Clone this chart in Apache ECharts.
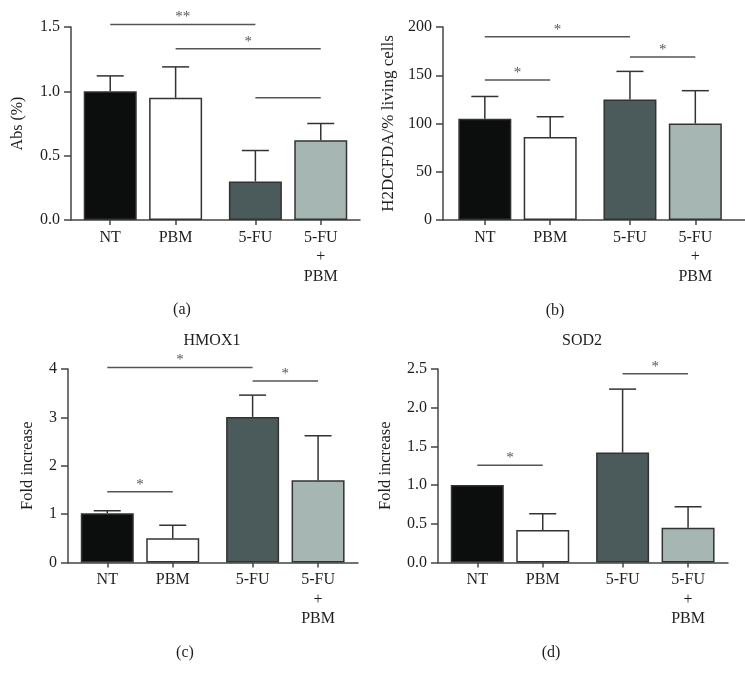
<!DOCTYPE html>
<html><head><meta charset="utf-8">
<script src="https://cdn.jsdelivr.net/npm/echarts@6/dist/echarts.min.js"></script>
<style>html,body{margin:0;padding:0;background:#fff}#c{width:745px;height:685px}</style>
</head><body><div id="c"></div>
<script>
// ---- data ----
const categories = ['NT', 'PBM', '5-FU', '5-FU\n+\nPBM'];
const groupOf = [0, 0, 1, 1];

const absMean = [1.00, 0.95, 0.30, 0.62];
const absErr  = [0.12, 0.24, 0.24, 0.13];
const h2Mean  = [105, 86, 125, 100];
const h2Err   = [23, 21, 29, 34];
const hmoxMean = [1.02, 0.50, 3.01, 1.70];
const hmoxErr  = [0.05, 0.27, 0.45, 0.92];
const sodMean  = [1.00, 0.42, 1.42, 0.45];
const sodErr   = [0.00, 0.21, 0.82, 0.27];

// significance brackets: [fromIndex, toIndex, level, label]
const sigA = [[0, 2, 1.52, '**'], [1, 3, 1.33, '*'], [2, 3, 0.95, '']];
const sigB = [[0, 2, 190, '*'], [2, 3, 169, '*'], [0, 1, 145, '*']];
const sigC = [[0, 2, 4.03, '*'], [2, 3, 3.75, '*'], [0, 1, 1.46, '*']];
const sigD = [[0, 1, 1.255, '*'], [2, 3, 2.44, '*']];

// ---- layout / style ----
const GROUP_GAP = 0.22;
const pos = categories.map((c, i) => i + groupOf[i] * GROUP_GAP);
const fills = ['#0b0e0c', '#ffffff', '#4b5a5a', '#a6b6b3'];
const FONT = '"Liberation Serif", "DejaVu Serif", serif';
const FS = 16;
const TXT = '#1e1e1e';
const AX = '#444';

const panels = [
  {grid: {left: 71, top: 27, width: 289, height: 193}, xmin: -0.6, xmax: 3.82,
   y: {min: 0, max: 1.5, interval: 0.5, dec: 1}, mean: absMean, err: absErr, sig: sigA,
   name: 'Abs (%)', nameGap: 45, nameSize: 16},
  {grid: {left: 443, top: 27, width: 302, height: 193}, xmin: -0.64, xmax: 3.98,
   y: {min: 0, max: 200, interval: 50, dec: 0}, mean: h2Mean, err: h2Err, sig: sigB,
   name: 'H2DCFDA/% living cells', nameGap: 46, nameSize: 17},
  {grid: {left: 68, top: 369, width: 290, height: 193.5}, xmin: -0.6, xmax: 3.83,
   y: {min: 0, max: 4, interval: 1, dec: 0}, mean: hmoxMean, err: hmoxErr, sig: sigC,
   name: 'Fold increase', nameGap: 32, nameSize: 16.5},
  {grid: {left: 438, top: 369, width: 290, height: 193.5}, xmin: -0.6, xmax: 3.83,
   y: {min: 0, max: 2.5, interval: 0.5, dec: 1}, mean: sodMean, err: sodErr, sig: sigD,
   name: 'Fold increase', nameGap: 44, nameSize: 16.5}
];

const grids = [], xAxes = [], yAxes = [], series = [];
panels.forEach((p, k) => {
  grids.push(p.grid);
  xAxes.push({
    type: 'value', gridIndex: k, min: p.xmin, max: p.xmax,
    splitLine: {show: false},
    axisLine: {onZero: false, lineStyle: {color: AX, width: 1.5}},
    axisTick: {customValues: pos, length: 5, lineStyle: {color: AX, width: 1.5}},
    axisLabel: {
      customValues: pos, margin: 8, fontFamily: FONT, fontSize: FS, color: TXT, lineHeight: 19.5,
      formatter: v => {
        let best = 0;
        pos.forEach((q, i) => { if (Math.abs(q - v) < Math.abs(pos[best] - v)) best = i; });
        return categories[best];
      }
    }
  });
  yAxes.push({
    type: 'value', gridIndex: k, min: p.y.min, max: p.y.max, interval: p.y.interval,
    splitLine: {show: false},
    axisLine: {show: true, onZero: false, lineStyle: {color: AX, width: 1.5}},
    axisTick: {show: true, length: 7, lineStyle: {color: AX, width: 1.5}},
    axisLabel: {margin: 11, fontFamily: FONT, fontSize: FS, color: TXT,
      formatter: v => v.toFixed(p.y.dec)},
    name: p.name, nameLocation: 'middle', nameGap: p.nameGap,
    nameTextStyle: {fontFamily: FONT, fontSize: p.nameSize, color: TXT}
  });
  series.push({
    type: 'bar', xAxisIndex: k, yAxisIndex: k, barWidth: 53, z: 2,
    itemStyle: {borderColor: '#333', borderWidth: 1.5},
    data: p.mean.map((v, i) => ({value: [pos[i], v], itemStyle: {color: fills[i]}}))
  });
  series.push({
    type: 'custom', xAxisIndex: k, yAxisIndex: k, z: 3,
    data: p.mean.map((v, i) => [pos[i], v, v + p.err[i]]),
    renderItem: (params, api) => {
      const a = api.coord([api.value(0), api.value(1)]);
      const b = api.coord([api.value(0), api.value(2)]);
      if (Math.abs(a[1] - b[1]) < 0.5) return {type: 'group', children: []};
      const st = {stroke: '#333', lineWidth: 1.5};
      return {type: 'group', children: [
        {type: 'line', shape: {x1: a[0], y1: a[1], x2: b[0], y2: b[1]}, style: st},
        {type: 'line', shape: {x1: b[0] - 13.5, y1: b[1], x2: b[0] + 13.5, y2: b[1]}, style: st}
      ]};
    }
  });
  series.push({
    type: 'custom', xAxisIndex: k, yAxisIndex: k, z: 4, clip: false,
    data: p.sig.map(s => [pos[s[0]], pos[s[1]], s[2]]),
    renderItem: (params, api) => {
      const a = api.coord([api.value(0), api.value(2)]);
      const b = api.coord([api.value(1), api.value(2)]);
      const lbl = p.sig[params.dataIndex][3];
      return {type: 'group', children: [
        {type: 'line', shape: {x1: a[0], y1: a[1], x2: b[0], y2: b[1]}, style: {stroke: '#555', lineWidth: 1.5}},
        {type: 'text', x: (a[0] + b[0]) / 2, y: a[1] + 0.5,
         style: {text: lbl, fill: '#555', font: '15px ' + FONT, align: 'center', verticalAlign: 'bottom'}}
      ]};
    }
  });
});

const texts = [
  ['HMOX1', 212, 341], ['SOD2', 582, 341],
  ['(a)', 182, 310], ['(b)', 555, 311], ['(c)', 185, 653], ['(d)', 551, 653]
];

const chart = echarts.init(document.getElementById('c'));
chart.setOption({
  animation: false,
  backgroundColor: '#fff',
  grid: grids, xAxis: xAxes, yAxis: yAxes, series: series,
  graphic: texts.map(t => ({
    type: 'text', x: t[1], y: t[2],
    style: {text: t[0], fill: TXT, font: FS + 'px ' + FONT, align: 'center', verticalAlign: 'middle'}
  }))
});
</script></body></html>
